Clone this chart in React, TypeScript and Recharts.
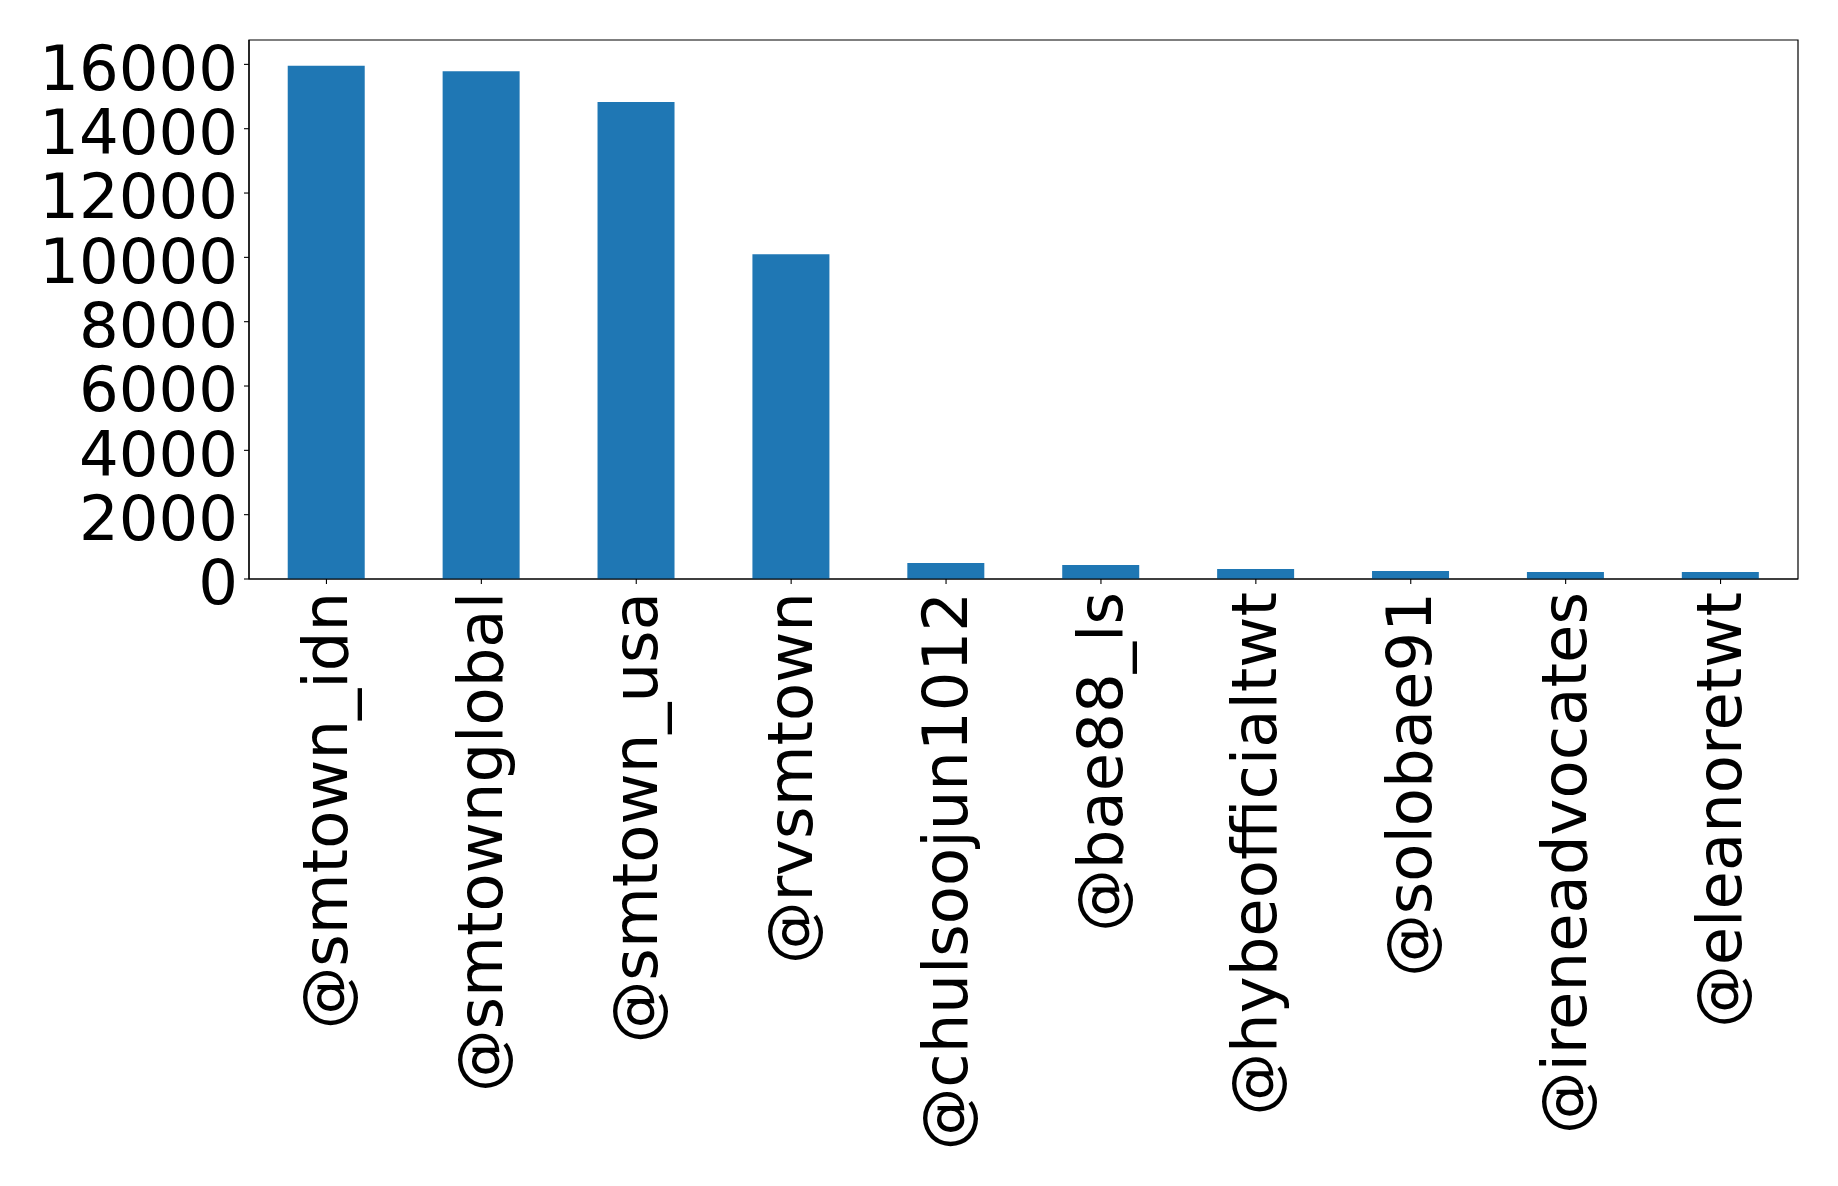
import { BarChart, Bar, XAxis, YAxis, ReferenceArea } from "recharts";

const ACCOUNTS = [
  "@smtown_idn",
  "@smtownglobal",
  "@smtown_usa",
  "@rvsmtown",
  "@chulsoojun1012",
  "@bae88_ls",
  "@hybeofficialtwt",
  "@solobae91",
  "@ireneadvocates",
  "@eleanoretwt",
];
const COUNTS = [15960, 15790, 14830, 10100, 500, 435, 310, 250, 218, 215];
const Y_TICKS = [0, 2000, 4000, 6000, 8000, 10000, 12000, 14000, 16000];

const FONT = "'DejaVu Sans', sans-serif";
const Y_TOP = Math.max(...COUNTS) * 1.05;

const chartData = ACCOUNTS.map((name, i) => ({ name, count: COUNTS[i] }));

function RotatedTick({ x, y, payload }: any) {
  return (
    <text x={x} y={y} transform={`rotate(-90 ${x} ${y})`} textAnchor="end" dy="0.33em"
      fontSize={62.5} fontFamily={FONT} fill="#000">
      {payload.value}
    </text>
  );
}

export default function App() {
  return (
    <div style={{ position: "absolute", top: 0, left: 0, width: 1838, height: 1186, background: "#fff" }}>
      <BarChart width={1838} height={1186} data={chartData} barCategoryGap="25%"
        margin={{ top: 40, right: 40, bottom: 0, left: 0 }}>
        <XAxis dataKey="name" interval={0} height={607} tick={<RotatedTick />}
          tickSize={5} tickMargin={8} axisLine={{ stroke: "#000", strokeWidth: 1.2 }}
          tickLine={{ stroke: "#000", strokeWidth: 1.1 }} />
        <YAxis width={249} domain={[0, Y_TOP]} ticks={Y_TICKS} interval={0}
          tick={{ fontSize: 62.5, fill: "#000", fontFamily: FONT, dy: 3 }}
          tickSize={5} tickMargin={6} axisLine={{ stroke: "#000", strokeWidth: 1.2 }}
          tickLine={{ stroke: "#000", strokeWidth: 1.1 }} />
        <Bar dataKey="count" fill="#1f77b4" isAnimationActive={false} />
        <ReferenceArea y1={0} y2={Y_TOP} fill="none" stroke="#000" strokeWidth={1.2} ifOverflow="visible" />
      </BarChart>
    </div>
  );
}
